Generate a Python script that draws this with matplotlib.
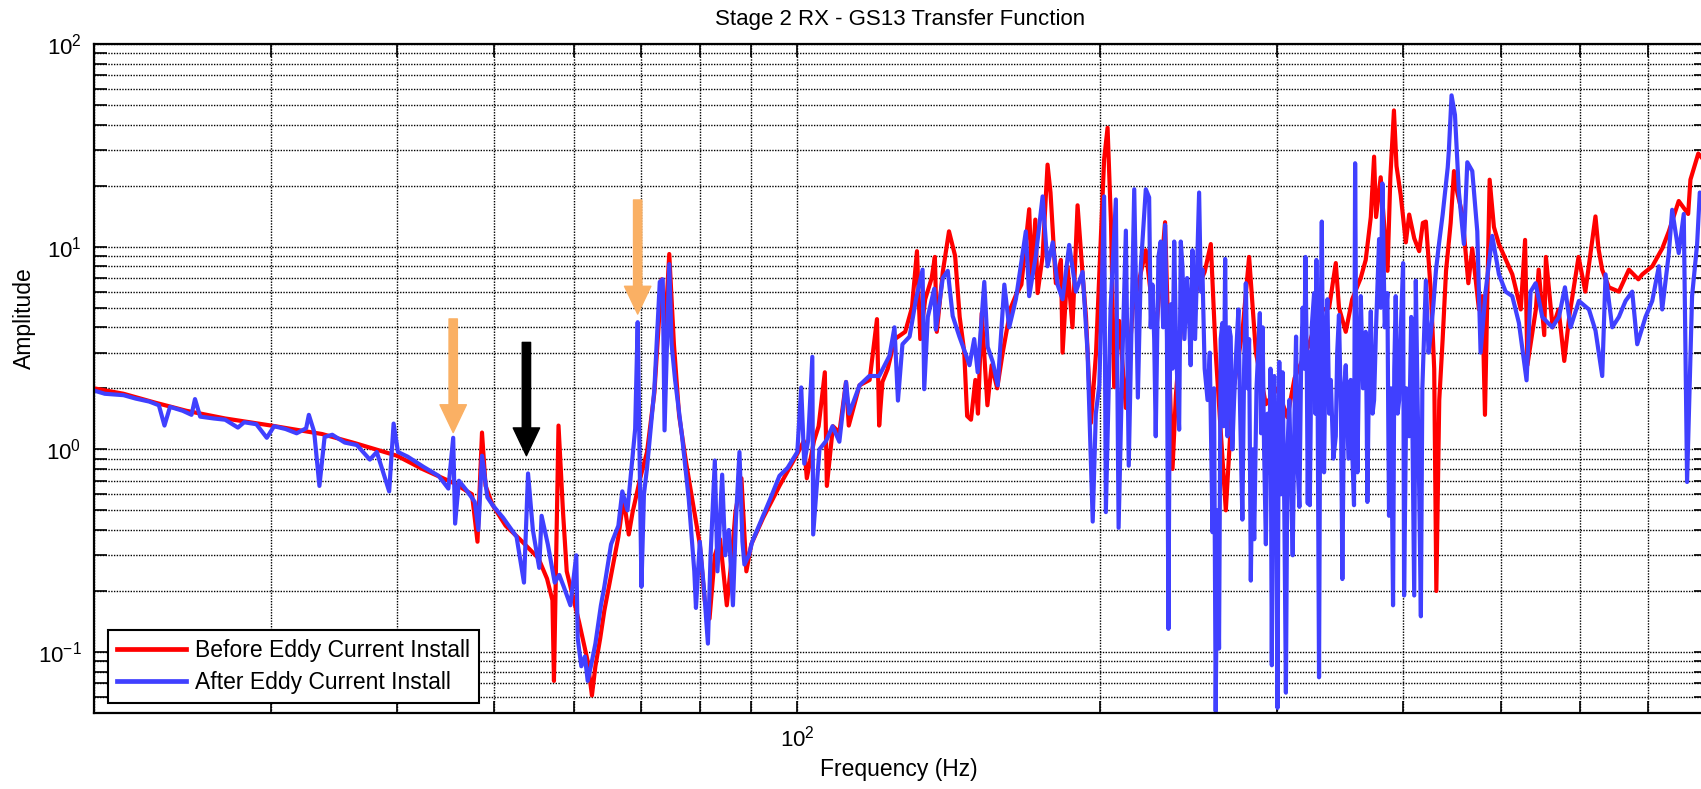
import matplotlib
matplotlib.use("Agg")
import matplotlib.pyplot as plt
from matplotlib.ticker import LogLocator, NullFormatter

plt.rcParams['font.family'] = ['Liberation Sans', 'DejaVu Sans']
plt.rcParams['mathtext.default'] = 'regular'
plt.rcParams['axes.unicode_minus'] = False

# values (frequency in Hz, amplitude)
freq_before = [20.0, 21.4, 23.0, 24.7, 27.0, 30.0, 33.7, 36.4, 40.0, 42.4, 45.6, 47.5, 48.1, 48.6, 49.0,
               49.8, 51.3, 53.0, 55.3, 56.4, 57.1, 57.3, 57.9, 58.5, 59.0, 59.8, 60.7, 61.9, 62.5, 63.0,
               63.7, 64.3, 65.3, 66.4, 67.2, 68.0, 68.6, 69.8, 70.9, 72.1, 73.3, 73.9, 74.6, 75.4, 76.3,
               77.5, 78.8, 80.0, 80.9, 81.8, 82.8, 83.8, 85.1, 86.0, 86.8, 88.0, 89.0, 90.0, 92.5, 96.0,
               99.0, 100.0, 101.5, 102.2, 103.9, 105.0, 106.5, 107.0, 108.5, 110.1, 111.8, 112.5, 115.3, 118.0, 120.0,
               120.6, 121.5, 123.0, 125.0, 128.0, 130.0, 131.5, 132.5, 134.0, 136.0, 137.0, 137.6, 139.5, 141.5, 143.5,
               145.0, 146.5, 147.5, 148.8, 150.3, 151.2, 152.5, 154.5, 156.0, 158.0, 160.0, 163.0, 165.0, 167.0, 170.0,
               171.0, 172.4, 173.3, 175.3, 177.3, 178.5, 180.7, 182.8, 183.5, 185.6, 187.7, 189.9, 192.1, 193.6, 195.8,
               198.1, 201.8, 203.4, 205.0, 206.5, 208.9, 212.1, 215.4, 222.0, 224.0, 227.2, 232.0, 234.0, 236.0, 237.8,
               241.4, 248.9, 254.0, 257.6, 260.5, 266.6, 270.7, 277.0, 281.2, 285.6, 292.2, 300.0, 306.9, 312.0, 322.6,
               330.0, 337.7, 342.9, 345.4, 350.8, 356.0, 363.0, 367.2, 371.5, 374.3, 376.0, 380.0, 383.0, 386.0, 388.5,
               391.7, 394.0, 397.8, 402.5, 405.6, 410.3, 415.0, 418.5, 421.4, 426.3, 429.5, 431.6, 434.5, 437.9, 441.3,
               446.0, 449.4, 452.8, 458.0, 464.4, 468.6, 475.8, 479.4, 482.4, 487.6, 492.4, 498.0, 513.6, 523.6, 528.8,
               531.6, 542.0, 545.5, 552.5, 554.6, 563.2, 571.0, 578.4, 585.0, 597.6, 607.0, 621.2, 625.5, 630.8, 640.6,
               655.4, 670.6, 685.3, 691.5, 707.5, 723.8, 734.8, 751.6, 768.0, 772.0, 786.0, 800.0]
amp_before = [2.00, 1.88, 1.70, 1.55, 1.42, 1.31, 1.19, 1.07, 0.93, 0.80, 0.68, 0.60, 0.35, 1.21, 0.66,
              0.53, 0.42, 0.36, 0.29, 0.23, 0.18, 0.072, 1.31, 0.49, 0.25, 0.19, 0.14, 0.09, 0.061, 0.085,
              0.117, 0.16, 0.24, 0.37, 0.57, 0.38, 0.49, 0.72, 0.97, 1.9, 6.9, 3.9, 9.2, 3.3, 1.47,
              0.87, 0.53, 0.34, 0.18, 0.146, 0.30, 0.36, 0.17, 0.28, 0.49, 0.72, 0.25, 0.34, 0.46, 0.66,
              0.87, 0.95, 1.1, 0.72, 1.1, 1.3, 2.4, 0.66, 1.3, 1.21, 2.15, 1.31, 2.07, 2.2, 4.39,
              1.31, 2.15, 2.5, 3.5, 3.8, 5.0, 9.5, 3.5, 5.5, 7.0, 8.9, 3.8, 7.5, 11.9, 9.0,
              4.5, 3.05, 1.46, 1.40, 2.2, 1.5, 4.7, 1.65, 2.6, 2.0, 3.0, 5.0, 5.8, 6.5, 15.3,
              7.0, 13.6, 5.9, 9.0, 25.4, 18.5, 6.6, 8.6, 3.0, 8.0, 4.0, 16.0, 7.3, 4.5, 1.35,
              3.0, 27.0, 38.6, 13.1, 2.03, 4.3, 1.6, 4.9, 9.6, 6.5, 3.7, 13.2, 3.0, 0.8, 1.84,
              4.9, 6.0, 7.5, 10.3, 3.0, 0.5, 1.84, 3.85, 8.9, 3.0, 1.67, 2.0, 1.44, 2.24, 3.3,
              4.8, 5.0, 8.3, 5.0, 3.8, 5.5, 7.0, 8.6, 14.0, 27.8, 14.0, 22.0, 13.0, 7.6, 22.0,
              47.0, 25.0, 18.0, 10.5, 14.4, 11.0, 9.5, 13.1, 13.3, 5.9, 2.5, 0.2, 1.75, 3.5, 7.6,
              13.1, 23.6, 18.5, 14.5, 6.6, 9.8, 4.9, 5.7, 1.48, 21.4, 12.5, 10.3, 7.3, 4.9, 10.8,
              2.6, 4.9, 7.7, 3.66, 8.9, 4.0, 4.9, 2.73, 4.5, 8.9, 6.0, 14.1, 9.8, 7.7, 6.3,
              6.0, 7.7, 6.9, 7.3, 8.0, 9.8, 11.9, 16.8, 14.5, 21.4, 28.8, 26.0]

freq_after = [20.0, 20.5, 21.4, 22.0, 22.7, 23.2, 23.5, 23.8, 24.5, 25.0, 25.2, 25.5, 26.3, 27.0, 27.8,
              28.2, 29.0, 29.7, 30.2, 31.0, 31.8, 32.5, 32.7, 33.1, 33.5, 33.9, 34.5, 35.5, 36.5, 37.6,
              38.2, 39.3, 39.7, 40.1, 41.0, 42.5, 44.0, 45.0, 45.5, 45.7, 46.1, 47.0, 47.8, 48.2, 48.6,
              49.2, 49.8, 51.0, 52.6, 53.5, 54.0, 54.6, 55.4, 55.7, 56.5, 57.4, 58.0, 58.6, 59.5, 60.3,
              60.5, 61.0, 61.5, 61.9, 62.5, 63.0, 63.8, 64.3, 65.3, 66.4, 67.0, 67.8, 69.0, 69.4, 70.0,
              70.4, 70.9, 72.1, 73.0, 73.5, 73.8, 74.6, 75.0, 75.6, 76.8, 78.0, 79.0, 79.3, 80.0, 80.8,
              81.5, 82.0, 82.8, 83.3, 84.2, 84.8, 85.5, 86.3, 86.9, 87.6, 88.2, 88.6, 89.5, 90.2, 94.0,
              96.0, 97.8, 100.0, 100.9, 101.6, 102.5, 103.5, 103.7, 105.2, 106.8, 108.4, 110.1, 111.8, 112.6, 115.3,
              117.9, 120.6, 123.5, 124.9, 125.9, 127.2, 129.3, 131.2, 133.2, 133.7, 134.8, 136.8, 137.3, 139.5, 141.1,
              142.7, 144.9, 147.2, 148.3, 149.9, 151.1, 153.4, 154.6, 156.4, 158.2, 160.6, 162.4, 164.9, 168.7, 170.0,
              172.6, 175.3, 177.3, 179.4, 181.4, 183.5, 186.3, 189.2, 192.1, 194.3, 196.6, 198.0, 199.6, 201.8, 202.6,
              204.8, 207.3, 208.6, 210.5, 212.1, 213.5, 216.2, 218.0, 219.5, 222.0,
              223.7, 224.5, 225.4, 226.3, 227.1, 228.5, 229.7, 231.0, 232.0, 233.0, 233.8, 234.5, 235.1, 236.0, 236.9,
              238.0, 239.6, 240.5, 241.4, 242.5, 244.0, 245.1, 246.0, 247.0, 248.5, 250.8, 251.8, 252.7, 254.0, 255.7,
              257.0, 258.6, 259.5, 260.5, 261.5, 262.5, 263.5, 264.5, 265.3, 266.2, 267.0, 267.6, 268.6, 269.6, 270.6,
              271.7, 273.0, 274.4, 275.5, 276.9, 278.0, 279.1, 280.2, 281.2, 282.3, 283.4, 284.5, 286.0, 288.2, 289.0,
              290.0, 291.0, 292.2, 293.3, 294.5, 295.3, 296.2, 297.0, 297.9, 299.0, 300.1, 300.8, 301.3, 302.5, 303.6,
              304.8, 305.9, 307.0, 308.3, 309.5, 310.7, 312.0, 313.1, 314.3, 315.5, 316.7, 317.9, 319.0, 319.9, 320.8,
              321.6, 322.5, 323.1, 324.5, 326.3, 327.2, 328.0, 329.0, 330.0, 331.0, 332.1, 333.0, 333.8, 335.0, 336.4,
              337.7, 339.0, 341.0, 342.9, 344.0, 345.4, 347.0, 348.1, 349.5, 350.8, 353.0, 354.8, 356.0, 357.5, 358.4,
              359.3, 360.3, 361.7, 363.1, 365.0, 367.2, 368.0, 368.6, 370.0, 371.5, 373.0, 374.3, 376.0, 378.6, 380.0,
              381.5, 383.5, 385.9, 386.6, 387.3, 389.0, 390.9, 392.0, 393.3, 395.0, 396.4, 398.0, 400.0, 400.9, 403.0,
              405.6, 407.5, 410.3, 411.8, 413.3, 415.0, 416.6, 418.0, 421.4, 424.0, 426.3, 428.5, 431.2, 434.2, 437.9,
              443.0, 444.2, 446.9, 450.4, 454.5, 459.7, 463.3, 468.6, 474.0, 477.6, 483.1, 490.5, 498.1, 505.8, 513.5,
              521.4, 530.6, 535.5, 541.7, 550.0, 562.7, 571.4, 579.3, 586.8, 598.1, 612.0, 621.3, 630.9, 635.7, 645.5,
              655.4, 665.5, 675.7, 683.5, 696.6, 707.4, 718.2, 723.7, 734.8, 740.4, 751.6, 760.3, 766.1, 774.9, 783.9,
              788.7, 800.0]
amp_after = [1.95, 1.88, 1.85, 1.78, 1.72, 1.65, 1.31, 1.62, 1.55, 1.48, 1.77, 1.45, 1.42, 1.40, 1.28,
             1.36, 1.33, 1.14, 1.30, 1.26, 1.20, 1.27, 1.48, 1.22, 0.66, 1.15, 1.18, 1.08, 1.05, 0.89,
             0.97, 0.62, 1.34, 0.97, 0.92, 0.82, 0.74, 0.64, 1.14, 0.43, 0.70, 0.62, 0.55, 0.40, 0.93,
             0.58, 0.53, 0.46, 0.37, 0.22, 0.76, 0.40, 0.26, 0.47, 0.34, 0.22, 0.24, 0.21, 0.17, 0.30,
             0.117, 0.085, 0.095, 0.072, 0.09, 0.11, 0.17, 0.21, 0.34, 0.42, 0.62, 0.50, 1.26, 4.24, 0.21,
             0.6, 0.81, 1.98, 6.7, 6.9, 1.24, 8.2, 3.3, 2.2, 1.17, 0.57, 0.25, 0.165, 0.35, 0.20,
             0.11, 0.30, 0.88, 0.25, 0.75, 0.30, 0.40, 0.17, 0.45, 0.97, 0.35, 0.27, 0.30, 0.35, 0.57,
             0.74, 0.81, 0.97, 2.02, 0.85, 1.1, 2.86, 0.38, 1.0, 1.1, 1.3, 1.09, 2.15, 1.5, 2.07,
             2.3, 2.3, 2.9, 4.0, 1.74, 3.3, 3.6, 5.5, 7.7, 1.98, 4.5, 6.2, 3.9, 7.0, 7.6,
             4.55, 3.6, 2.9, 2.6, 3.5, 2.4, 6.7, 3.2, 2.7, 2.07, 6.5, 4.0, 5.5, 11.9, 5.7,
             9.0, 17.7, 8.0, 10.5, 6.5, 5.5, 10.2, 6.0, 7.5, 3.0, 0.44, 1.5, 2.07, 17.7, 0.49,
             5.0, 17.1, 0.41, 3.0, 12.0, 0.83, 19.2, 1.8, 8.0, 19.2,
             17.5, 4.0, 6.5, 3.5, 1.16, 8.9, 10.6, 4.0, 12.8, 3.5, 0.13, 2.0, 5.2, 2.5, 10.6,
             3.0, 1.25, 10.6, 8.0, 3.5, 7.0, 4.6, 2.6, 9.6, 3.5, 18.5, 6.0, 7.7, 2.5, 1.75,
             3.0, 0.39, 2.0, 0.051, 0.5, 0.104, 3.5, 4.2, 1.3, 8.7, 1.5, 1.16, 4.0, 3.6, 1.0,
             1.75, 3.0, 4.9, 1.5, 0.45, 2.5, 6.6, 2.0, 3.5, 0.225, 1.0, 0.36, 2.0, 4.7, 1.2,
             4.0, 1.0, 0.34, 1.5, 0.77, 2.5, 0.086, 1.5, 2.3, 0.8, 0.053, 1.0, 2.7, 0.6, 2.4,
             0.5, 0.063, 1.0, 1.75, 0.7, 0.3, 1.5, 3.6, 0.8, 0.52, 2.5, 5.0, 2.5, 8.9, 3.0,
             0.54, 3.0, 0.53, 4.0, 5.9, 1.5, 8.6, 1.5, 0.075, 3.0, 13.3, 2.0, 0.77, 3.5, 5.5,
             1.5, 2.2, 0.9, 1.16, 3.0, 4.6, 1.5, 0.229, 2.0, 2.6, 0.9, 2.2, 1.0, 0.53, 25.8,
             3.0, 0.77, 3.0, 5.7, 2.0, 3.8, 1.5, 0.55, 2.5, 4.8, 1.5, 1.75, 4.0, 10.9, 5.0,
             20.5, 4.0, 5.9, 1.5, 0.47, 2.0, 0.17, 2.5, 5.7, 1.5, 1.75, 4.0, 8.3, 0.19, 2.0,
             1.16, 4.5, 0.19, 6.8, 2.0, 0.63, 0.15, 2.0, 6.8, 3.0, 3.8, 5.0, 7.6, 10.3, 14.4,
             24.6, 30.0, 55.8, 44.7, 18.5, 10.3, 26.1, 23.6, 11.9, 3.0, 6.0, 11.3, 7.3, 6.0, 5.7,
             4.2, 2.19, 6.0, 6.6, 4.5, 4.0, 4.5, 6.3, 4.0, 5.4, 4.9, 3.85, 2.3, 7.3, 4.0,
             4.5, 5.4, 6.0, 3.3, 4.5, 5.4, 8.0, 4.9, 9.3, 15.2, 9.3, 14.5, 0.69, 5.7, 10.3,
             18.5, 16.0]

# arrows: (frequency, tail amplitude, head amplitude, colour)
arrows = [(45.5, 4.4, 1.21, '#FAB064'),
          (69.4, 17.0, 4.65, '#FAB064'),
          (53.8, 3.37, 0.93, 'black')]

fig = plt.figure(figsize=(17.01, 7.89), dpi=100)
ax = fig.add_axes([94/1701, 76/789, 1612/1701, 669/789])

ax.loglog(freq_before, amp_before, color='#FF0000', lw=3.0, label='Before Eddy Current Install')
ax.loglog(freq_after, amp_after, color='#4040FF', lw=3.0, label='After Eddy Current Install')

for f, a0, a1, c in arrows:
    ax.annotate('', xy=(f, a1), xytext=(f, a0),
                arrowprops=dict(arrowstyle='simple,head_length=2.0,head_width=1.9,tail_width=0.6',
                                color=c, shrinkA=0, shrinkB=0, mutation_scale=10))

ax.set_xlim(20, 800)
ax.set_ylim(0.05, 100)
ax.xaxis.set_minor_locator(LogLocator(base=10, subs=range(2, 10)))
ax.yaxis.set_minor_locator(LogLocator(base=10, subs=range(2, 10)))
ax.xaxis.set_minor_formatter(NullFormatter())
ax.yaxis.set_minor_formatter(NullFormatter())

ax.grid(True, which='both', color='black', linestyle=(0, (1, 1)), linewidth=1.0)
ax.tick_params(which='both', direction='in', top=True, right=True, length=9, width=1.2,
               labelsize=16)
ax.tick_params(axis='x', pad=9)
ax.tick_params(axis='y', pad=9)
for s in ax.spines.values():
    s.set_linewidth(1.6)

ax.set_title('Stage 2 RX - GS13 Transfer Function', fontsize=16, pad=14)
ax.set_xlabel('Frequency (Hz)', fontsize=16.5)
ax.set_ylabel('Amplitude', fontsize=16.5)
ax.xaxis.set_label_coords(0.4994, -0.068)
ax.yaxis.set_label_coords(-0.036, 0.59)

leg = ax.legend(loc='lower left', bbox_to_anchor=(14/1612, 10/669), borderaxespad=0,
                fontsize=16.5, handlelength=3.0, handletextpad=0.4, labelspacing=0.38,
                borderpad=0.4, fancybox=False, framealpha=1)
leg.get_frame().set_edgecolor('black')
leg.get_frame().set_linewidth(1.5)
for line in leg.get_lines():
    line.set_linewidth(3.4)

fig.savefig('out.png', dpi=100)
